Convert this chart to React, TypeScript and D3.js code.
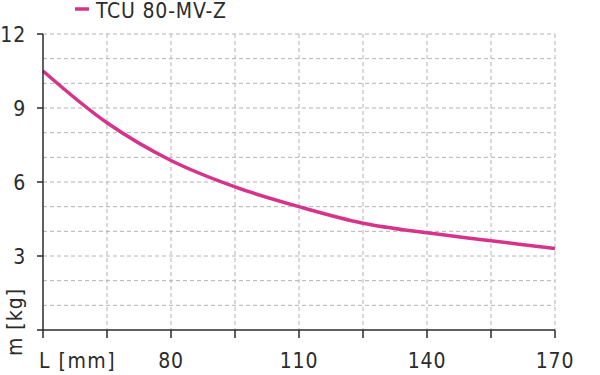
import React from "react";
import * as d3 from "d3";

const seriesName = "TCU 80-MV-Z";
const lengths = [50, 65, 80, 95, 110, 125, 140, 155, 170];
const masses = [10.5, 8.4, 6.87, 5.8, 5.0, 4.33, 3.94, 3.62, 3.3];
const xGridValues = [50, 65, 80, 95, 110, 125, 140, 155, 170];
const xTickLabels = [80, 110, 140, 170];
const yGridValues = [1, 2, 3, 4, 5, 6, 7, 8, 9, 10, 11, 12];
const yTickLabels = [3, 6, 9, 12];

const W = 600, H = 375;
const FONT = "'DejaVu Sans Condensed', 'DejaVu Sans', sans-serif";
const LINE = "#d6338a";
const INK = "#2b2b2b";
const FS = 21;
const LS = 0.8;

export default function App() {
  const x = d3.scaleLinear().domain([50, 170]).range([43, 555]);
  const y = d3.scaleLinear().domain([0, 12]).range([330, 34]);
  const line = d3
    .line<number>()
    .x((_, i) => x(lengths[i]))
    .y((d) => y(d))
    .curve(d3.curveCatmullRom.alpha(0.5));
  return (
    <svg width={W} height={H} style={{ position: "absolute", left: 0, top: 0 }} fontFamily={FONT}>
      <rect width={W} height={H} fill="#fff" />
      {xGridValues.slice(1).map((v) => (
        <line key={"gx" + v} x1={x(v)} x2={x(v)} y1={y(12)} y2={y(0)} stroke="#b4b4b4" strokeWidth={1} strokeDasharray="4,3" />
      ))}
      {yGridValues.map((v) => (
        <line key={"gy" + v} x1={x(50)} x2={x(170)} y1={y(v)} y2={y(v)} stroke="#b4b4b4" strokeWidth={1} strokeDasharray="4,3" />
      ))}
      <path d={line(masses) || ""} fill="none" stroke={LINE} strokeWidth={3.5} />
      <line x1={x(50)} x2={x(50)} y1={y(12)} y2={y(0)} stroke={INK} strokeWidth={1.5} />
      <line x1={37} x2={x(170)} y1={y(0)} y2={y(0)} stroke={INK} strokeWidth={1.5} />
      {yTickLabels.map((v) => (
        <g key={"yt" + v}>
          <line x1={37} x2={x(50)} y1={y(v)} y2={y(v)} stroke={INK} strokeWidth={1.5} />
          <text x={26} y={y(v)} dy="0.36em" textAnchor="end" fontSize={FS} letterSpacing={LS} fill={INK}>{v}</text>
        </g>
      ))}
      {xGridValues.map((v) => (
        <line key={"xt" + v} x1={x(v)} x2={x(v)} y1={y(0)} y2={y(0) + 8} stroke={INK} strokeWidth={1.5} />
      ))}
      {xTickLabels.map((v) => (
        <text key={"xl" + v} x={x(v)} y={368} textAnchor="middle" fontSize={FS} letterSpacing={LS} fill={INK}>{v}</text>
      ))}
      <text x={39} y={368} fontSize={FS} letterSpacing={1.5} fill={INK}>L [mm]</text>
      <text transform={`translate(22,322) rotate(-90)`} textAnchor="middle" fontSize={FS} letterSpacing={1} fill={INK}>m [kg]</text>
      <line x1={75} x2={89} y1={9} y2={9} stroke={LINE} strokeWidth={3.5} />
      <text x={96} y={18} fontSize={FS} letterSpacing={LS} fill={INK}>{seriesName}</text>
    </svg>
  );
}
